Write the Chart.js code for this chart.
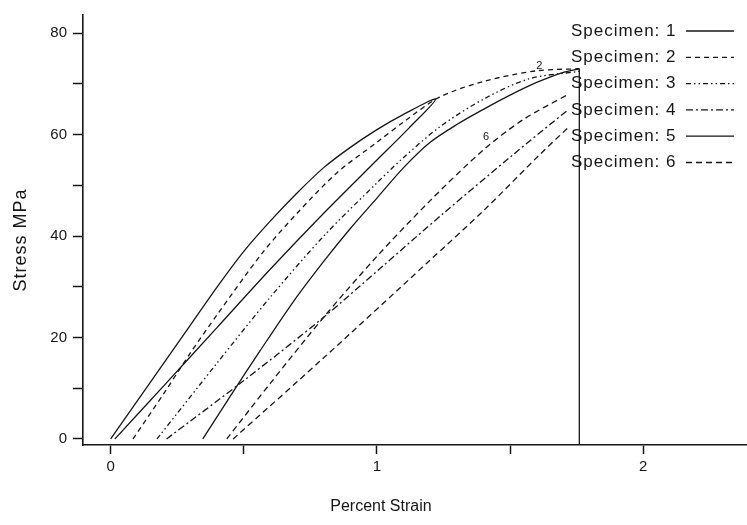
<!DOCTYPE html>
<html>
<head>
<meta charset="utf-8">
<script src="https://cdn.jsdelivr.net/npm/chart.js@4.4.1/dist/chart.umd.min.js"></script>
<style>
    html, body { margin: 0; padding: 0; background: #fff; }
</style>
</head>
<body>
<canvas id="chart" width="747" height="525"></canvas>
<script>
// Stress / strain curves for six specimens
const SPECIMENS = ['1', '2', '3', '4', '5', '6'];

// specimen 1: loading branch, then unloading branch (closed loop)
const S1_STRAIN = [0, 0.1, 0.2, 0.3, 0.4, 0.5, 0.6, 0.7, 0.8, 0.9, 1.0, 1.1, 1.22, 1.12, 1.0, 0.8, 0.6, 0.4, 0.2, 0.016];
const S1_STRESS = [0, 7.5, 15, 22.5, 30, 37, 43, 48.5, 53.5, 57.5, 61, 64, 67, 61.3, 55, 44.5, 33.5, 22, 10.5, 0];

const S2_STRAIN = [0.084, 0.2, 0.3, 0.4, 0.57, 0.7, 0.85, 1.0, 1.1, 1.235, 1.4, 1.6, 1.76];
const S2_STRESS = [0, 9, 17, 24.5, 36.7, 44.5, 52.5, 58.5, 62.5, 67.4, 70.5, 72.6, 73];

const S3_STRAIN = [0.174, 0.4, 0.6, 0.8, 1.0, 1.1, 1.235, 1.4, 1.57, 1.76];
const S3_STRESS = [0, 15, 28, 40, 50.5, 55.5, 61.5, 67, 71, 72.5];

const S4_STRAIN = [0.21, 0.5, 0.8, 1.02, 1.25, 1.51, 1.72];
const S4_STRESS = [0, 11.5, 24, 34, 44.5, 56, 65];

// specimen 5: curve, then the fracture drop at the end
const S5_STRAIN = [0.346, 0.45, 0.56, 0.685, 0.8, 0.9, 1.0, 1.1, 1.2, 1.3, 1.4, 1.5, 1.6, 1.7, 1.76];
const S5_STRESS = [0, 8.5, 17.3, 27, 35, 41.5, 47.5, 53.5, 58.5, 62, 65, 67.8, 70.3, 72.3, 73];
const S5_DROP_STRAIN = [1.76, 1.76];
const S5_DROP_STRESS = [73, -1];

// specimen 6: two separate runs
const S6A_STRAIN = [0.436, 0.6, 0.8, 1.0, 1.2, 1.4, 1.55, 1.72];
const S6A_STRESS = [0, 11, 24, 36, 47, 57, 63, 68];
const S6B_STRAIN = [0.46, 0.8, 1.19, 1.4, 1.61, 1.72];
const S6B_STRESS = [0, 16, 34.8, 45, 56, 61.5];

// small specimen numbers written next to the curves
const CURVE_TAGS = ['2', '6'];
const CURVE_TAG_STRAIN = [1.61, 1.41];
const CURVE_TAG_STRESS = [73.6, 59.5];

const X_TICKS = [0, 0.5, 1, 1.5, 2];
const X_LABELS = ['0', '', '1', '', '2'];
const Y_TICKS = [0, 10, 20, 30, 40, 50, 60, 70, 80];
const Y_LABELS = ['0', '', '20', '', '40', '', '60', '', '80'];

const X_TITLE = 'Percent Strain';
const Y_TITLE = 'Stress MPa';

(function () {
    const INK = '#161616';
    const FONT = "'Liberation Sans', Arial, sans-serif";

    const DASHES = {
        '1': [],
        '2': [5, 4],
        '3': [5, 3, 1.5, 3, 1.5, 3],
        '4': [7, 3, 2, 3],
        '5': [],
        '6': [6, 4]
    };

    function toPoints(xs, ys) {
        return xs.map((x, i) => ({ x, y: ys[i] }));
    }

    function joinRuns(...runs) {
        const out = [];
        runs.forEach((r, i) => {
            if (i > 0) out.push({ x: null, y: null });
            out.push(...r);
        });
        return out;
    }

    const series = {
        '1': toPoints(S1_STRAIN, S1_STRESS),
        '2': toPoints(S2_STRAIN, S2_STRESS),
        '3': toPoints(S3_STRAIN, S3_STRESS),
        '4': toPoints(S4_STRAIN, S4_STRESS),
        '5': joinRuns(toPoints(S5_STRAIN, S5_STRESS), toPoints(S5_DROP_STRAIN, S5_DROP_STRESS)),
        '6': joinRuns(toPoints(S6A_STRAIN, S6A_STRESS), toPoints(S6B_STRAIN, S6B_STRESS))
    };

    const datasets = SPECIMENS.map((id) => ({
        label: 'Specimen: ' + id,
        data: series[id],
        showLine: true,
        spanGaps: false,
        borderColor: INK,
        borderWidth: 1.3,
        borderDash: DASHES[id],
        pointRadius: 0,
        tension: 0.3,
        fill: false
    }));

    // legend drawn in the top right corner, text then a line sample
    const specimenLegend = {
        id: 'specimenLegend',
        afterDatasetsDraw(chart) {
            const ctx = chart.ctx;
            ctx.save();
            ctx.font = '17px ' + FONT;
            ctx.letterSpacing = '1px';
            ctx.fillStyle = INK;
            ctx.textBaseline = 'middle';
            ctx.textAlign = 'left';
            chart.data.datasets.forEach((ds, i) => {
                const y = 31 + i * 26.3;
                ctx.fillText(ds.label, 571, y);
                ctx.beginPath();
                ctx.setLineDash(ds.borderDash);
                ctx.lineWidth = 1.3;
                ctx.strokeStyle = INK;
                ctx.moveTo(686, y);
                ctx.lineTo(734, y);
                ctx.stroke();
            });

            // curve tags
            const xs = chart.scales.x;
            const ys = chart.scales.y;
            ctx.font = '11px ' + FONT;
            ctx.letterSpacing = '0px';
            ctx.textAlign = 'center';
            CURVE_TAGS.forEach((t, i) => {
                ctx.fillText(t, xs.getPixelForValue(CURVE_TAG_STRAIN[i]), ys.getPixelForValue(CURVE_TAG_STRESS[i]));
            });
            ctx.restore();
        }
    };

    // axis titles, placed like in the scan
    const axisTitles = {
        id: 'axisTitles',
        afterDraw(chart) {
            const ctx = chart.ctx;
            const xs = chart.scales.x;
            ctx.save();
            ctx.fillStyle = INK;
            ctx.textAlign = 'center';
            ctx.textBaseline = 'middle';
            ctx.font = '16px ' + FONT;
            ctx.fillText(X_TITLE, xs.getPixelForValue(1) + 4, 507);
            ctx.font = '18px ' + FONT;
            ctx.letterSpacing = '1px';
            ctx.translate(21, 240);
            ctx.rotate(-Math.PI / 2);
            ctx.fillText(Y_TITLE, 0, 0);
            ctx.restore();
        }
    };

    function fixedTicks(values, labels) {
        return {
            afterBuildTicks: (scale) => {
                scale.ticks = values.map((v) => ({ value: v }));
            },
            callback: (v, i) => labels[i]
        };
    }

    const xt = fixedTicks(X_TICKS, X_LABELS);
    const yt = fixedTicks(Y_TICKS, Y_LABELS);

    new Chart(document.getElementById('chart'), {
        type: 'scatter',
        data: { datasets },
        plugins: [specimenLegend, axisTitles],
        options: {
            responsive: false,
            animation: false,
            layout: { padding: { top: 8, right: 1, left: 0, bottom: 0 } },
            plugins: {
                legend: { display: false },
                tooltip: { enabled: false }
            },
            scales: {
                x: {
                    type: 'linear',
                    min: -0.104,
                    max: 2.386,
                    afterBuildTicks: xt.afterBuildTicks,
                    afterFit: (s) => { s.height = 80; },
                    ticks: {
                        callback: xt.callback,
                        color: INK,
                        font: { family: FONT, size: 15 },
                        padding: 4,
                        maxRotation: 0,
                        autoSkip: false
                    },
                    grid: {
                        drawOnChartArea: false,
                        drawTicks: true,
                        tickLength: 9,
                        tickColor: INK,
                        tickWidth: 1.5
                    },
                    border: { display: true, color: INK, width: 1.6 }
                },
                y: {
                    type: 'linear',
                    min: -1.2,
                    max: 83.6,
                    afterBuildTicks: yt.afterBuildTicks,
                    afterFit: (s) => { s.width = 83; },
                    ticks: {
                        callback: yt.callback,
                        color: INK,
                        font: { family: FONT, size: 15 },
                        padding: 6,
                        autoSkip: false
                    },
                    grid: {
                        drawOnChartArea: false,
                        drawTicks: true,
                        tickLength: 10,
                        tickColor: INK,
                        tickWidth: 1.5
                    },
                    border: { display: true, color: INK, width: 1.6 }
                }
            }
        }
    });
})();
</script>
</body>
</html>
